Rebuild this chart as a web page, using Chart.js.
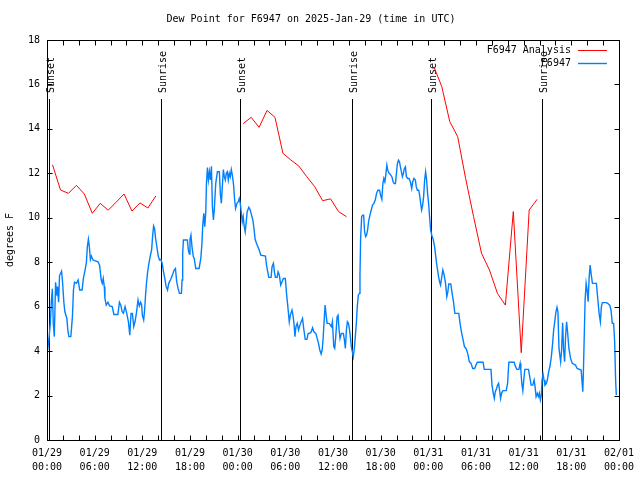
<!DOCTYPE html>
<html>
<head>
<meta charset="utf-8">
<script src="https://cdn.jsdelivr.net/npm/chart.js@4/dist/chart.umd.min.js"></script>
<style>
  html, body { margin: 0; padding: 0; background: #fff; }
</style>
</head>
<body>
<canvas id="dewChart" width="640" height="480"></canvas>
<script>
// hours since 01/29 00:00 UTC
const stationHours = [
  0.08, 0.25, 0.42, 0.54, 0.67, 0.79, 0.92, 1.08, 1.25, 1.33, 1.46, 1.58, 1.83, 1.96, 2.12, 2.25, 2.5, 2.62, 2.75, 3.0,
  3.08, 3.21, 3.33, 3.46, 3.71, 3.92, 4.12, 4.42, 4.58, 4.75, 4.96, 5.08, 5.21, 5.33, 5.46, 5.58, 5.79, 6.0, 6.42, 6.62,
  6.83, 6.96, 7.08, 7.21, 7.29, 7.46, 7.67, 7.88, 8.21, 8.42, 8.92, 9.12, 9.29, 9.46, 9.62, 9.83, 10.04, 10.25, 10.42, 10.58,
  10.75, 10.92, 11.08, 11.25, 11.46, 11.62, 11.79, 11.92, 12.0, 12.17, 12.29, 12.42, 12.54, 12.67, 12.83, 13.0, 13.17, 13.29, 13.42, 13.54,
  13.67, 13.83, 14.0, 14.17, 14.33, 14.5, 14.67, 14.83, 15.0, 15.17, 15.33, 15.58, 15.79, 16.0, 16.17, 16.33, 16.5, 16.67, 16.92, 17.0,
  17.08, 17.17, 17.67, 17.79, 17.92, 18.0, 18.12, 18.25, 18.42, 18.53, 18.73, 19.15, 19.36, 19.49, 19.61, 19.74, 19.86, 19.99, 20.07, 20.2,
  20.32, 20.45, 20.57, 20.7, 20.82, 20.95, 21.07, 21.24, 21.45, 21.7, 21.82, 21.95, 22.07, 22.2, 22.32, 22.45, 22.57, 22.7, 22.82, 22.95,
  23.07, 23.2, 23.33, 23.49, 23.62, 23.74, 23.91, 24.08, 24.2, 24.33, 24.45, 24.58, 24.7, 24.83, 24.95, 25.08, 25.2, 25.41, 25.58, 25.75,
  25.91, 26.08, 26.2, 26.37, 26.54, 26.71, 26.92, 27.5, 27.63, 27.79, 27.92, 28.21, 28.33, 28.5, 28.63, 28.75, 28.96, 29.09, 29.25, 29.42,
  29.59, 29.75, 30.0, 30.17, 30.3, 30.42, 30.5, 30.63, 30.84, 30.96, 31.09, 31.21, 31.34, 31.5, 31.67, 31.84, 32.0, 32.17, 32.34, 32.51,
  32.72, 32.88, 33.09, 33.26, 33.43, 33.59, 33.84, 34.01, 34.18, 34.34, 34.51, 34.64, 34.76, 34.93, 35.01, 35.14, 35.26, 35.51, 35.68, 35.81,
  35.93, 36.1, 36.22, 36.35, 36.52, 36.64, 36.77, 36.89, 37.06, 37.31, 37.44, 37.56, 37.69, 37.81, 37.94, 38.06, 38.19, 38.31, 38.44, 38.56,
  38.69, 38.81, 38.94, 39.06, 39.19, 39.32, 39.4, 39.48, 39.61, 39.73, 39.86, 39.98, 40.11, 40.23, 40.36, 40.48, 40.65, 40.82, 40.98, 41.15,
  41.32, 41.49, 41.65, 41.86, 41.99, 42.15, 42.28, 42.4, 42.53, 42.65, 42.78, 42.9, 43.07, 43.28, 43.41, 43.57, 43.7, 43.86, 43.99, 44.11,
  44.24, 44.37, 44.49, 44.62, 44.74, 44.87, 44.99, 45.12, 45.24, 45.41, 45.58, 45.74, 45.91, 46.04, 46.2, 46.37, 46.49, 46.62, 46.79, 46.91,
  47.04, 47.16, 47.29, 47.41, 47.54, 47.66, 47.79, 47.91, 48.04, 48.16, 48.29, 48.46, 48.62, 48.79, 48.92, 49.04, 49.17, 49.29, 49.42, 49.54,
  49.67, 49.83, 50.0, 50.17, 50.33, 50.46, 50.58, 50.83, 51.0, 51.17, 51.34, 51.84, 52.0, 52.17, 52.34, 52.55, 52.75, 52.96, 53.17, 53.38,
  53.59, 53.84, 54.0, 54.17, 54.89, 55.05, 55.89, 56.02, 56.18, 56.31, 56.43, 56.6, 56.72, 56.85, 56.97, 57.1, 57.22, 57.39, 57.81, 57.98,
  58.14, 58.81, 58.98, 59.15, 59.4, 59.56, 59.65, 59.77, 59.9, 60.02, 60.15, 60.61, 60.77, 60.94, 61.15, 61.32, 61.44, 61.57, 61.73, 61.86,
  61.98, 62.11, 62.23, 62.32, 62.44, 62.57, 62.69, 62.86, 62.98, 63.15, 63.32, 63.49, 63.65, 63.78, 63.9, 64.07, 64.2, 64.32, 64.45, 64.66,
  64.78, 64.91, 65.03, 65.16, 65.28, 65.41, 65.53, 65.7, 65.91, 66.12, 66.53, 66.74, 67.24, 67.37, 67.45, 67.53, 67.66, 67.74, 67.87, 67.99,
  68.12, 68.24, 68.37, 68.49, 68.66, 69.16, 69.33, 69.5, 69.66, 69.79, 69.91, 70.41, 70.58, 70.83, 71.0, 71.16, 71.33, 71.46, 71.58, 71.67
];
const stationValues = [
  4.05, 4.57, 5.25, 6.2, 6.8, 5.25, 4.65, 7.1, 6.5, 6.9, 6.2, 7.4, 7.6, 7.1, 6.2, 5.77, 5.47, 4.95, 4.65, 4.65,
  5.0, 5.6, 6.75, 7.1, 7.05, 7.2, 6.75, 6.75, 7.27, 7.57, 7.98, 8.7, 9.03, 8.7, 8.13, 8.28, 8.1, 8.07, 8.02, 7.87,
  7.2, 7.05, 7.27, 6.9, 6.37, 6.07, 6.2, 6.03, 6.0, 5.65, 5.65, 6.2, 6.07, 5.77, 5.7, 6.0, 5.7, 5.32, 4.72, 5.7,
  5.7, 5.1, 5.32, 5.7, 6.3, 6.03, 6.2, 6.07, 5.62, 5.4, 5.85, 6.6, 7.12, 7.57, 7.95, 8.28, 8.55, 9.15, 9.63, 9.52,
  9.07, 8.7, 8.28, 8.1, 8.13, 7.95, 7.57, 7.27, 6.9, 6.75, 7.05, 7.23, 7.42, 7.65, 7.72, 7.12, 6.82, 6.6, 6.6, 7.2,
  8.4, 9.0, 9.0, 8.55, 8.37, 9.03, 9.22, 8.7, 8.25, 8.17, 7.72, 7.72, 8.17, 8.77, 9.67, 10.2, 9.6, 10.27, 11.54, 12.26,
  11.7, 12.07, 11.7, 12.32, 10.5, 9.9, 10.42, 11.54, 12.07, 12.07, 11.1, 10.65, 11.4, 12.17, 11.85, 11.7, 12.0, 12.07, 11.7, 12.0,
  11.85, 12.17, 11.92, 11.47, 10.8, 10.42, 10.65, 10.72, 10.87, 10.65, 10.27, 9.82, 10.05, 9.6, 9.37, 9.82, 10.27, 10.47, 10.35, 10.12,
  9.9, 9.45, 9.03, 8.85, 8.7, 8.55, 8.32, 8.28, 7.87, 7.57, 7.32, 7.32, 7.8, 7.95, 7.57, 7.32, 7.32, 7.57, 7.42, 6.97,
  7.12, 7.27, 7.27, 6.52, 6.07, 5.62, 5.32, 5.62, 5.85, 5.62, 5.25, 4.65, 5.1, 5.25, 4.95, 5.17, 5.32, 5.47, 4.95, 4.53,
  4.53, 4.8, 4.8, 4.87, 5.05, 4.87, 4.8, 4.57, 4.35, 4.05, 3.87, 4.05, 4.57, 5.62, 6.07, 5.62, 5.25, 5.25, 5.17, 5.1,
  5.32, 4.2, 4.12, 4.65, 5.55, 5.62, 4.95, 4.57, 4.8, 4.8, 4.5, 4.12, 4.95, 5.32, 5.25, 5.02, 4.65, 4.2, 3.97, 3.75,
  4.12, 4.65, 5.25, 6.0, 6.52, 6.6, 7.42, 9.07, 10.05, 10.12, 10.12, 9.37, 9.15, 9.22, 9.45, 9.82, 10.12, 10.35, 10.57, 10.65,
  10.8, 11.1, 11.24, 11.24, 11.02, 10.83, 11.54, 11.77, 11.62, 11.92, 12.37, 12.14, 12.0, 11.92, 11.85, 11.62, 11.54, 11.54, 12.0, 12.44,
  12.59, 12.52, 12.29, 12.07, 11.85, 12.0, 12.22, 12.29, 11.85, 11.77, 11.77, 11.62, 11.32, 11.62, 11.77, 11.7, 11.39, 11.24, 11.24, 11.02,
  10.65, 10.35, 10.57, 10.95, 11.7, 12.07, 11.7, 11.1, 10.65, 10.05, 9.45, 9.18, 9.03, 8.7, 8.32, 7.95, 7.65, 7.35, 7.12, 6.97,
  7.27, 7.65, 7.42, 7.05, 6.45, 6.67, 7.02, 7.02, 6.6, 6.22, 5.7, 5.7, 5.25, 4.87, 4.57, 4.2, 4.12, 3.9, 3.52, 3.45,
  3.22, 3.22, 3.37, 3.5, 3.5, 3.18, 3.18, 2.47, 2.1, 1.87, 2.17, 2.32, 2.47, 2.55, 2.25, 1.87, 2.1, 2.22, 2.22, 2.55,
  3.5, 3.5, 3.3, 3.18, 3.18, 3.45, 3.15, 2.55, 2.22, 2.7, 3.18, 3.18, 2.85, 2.47, 2.47, 2.7, 2.4, 1.95, 2.1, 1.95,
  2.1, 1.8, 2.02, 2.7, 2.97, 2.7, 2.47, 2.55, 2.7, 3.07, 3.33, 3.75, 4.35, 4.95, 5.28, 5.77, 5.97, 5.77, 4.12, 3.52,
  4.05, 5.28, 4.05, 3.52, 4.65, 5.32, 4.87, 4.12, 3.67, 3.45, 3.37, 3.22, 3.15, 2.55, 2.17, 3.15, 5.1, 6.3, 7.05, 6.75,
  6.22, 7.27, 7.87, 7.5, 7.05, 7.05, 6.37, 5.7, 5.32, 6.0, 6.18, 6.18, 6.15, 6.07, 5.85, 5.25, 5.25, 4.42, 2.7, 2.02
];

// analysis runs, null = gap between runs
const analysisHours = [
  0.7, 1.7, 2.7, 3.7, 4.7, 5.7, 6.7, 7.7, 8.7, 9.7, 10.7, 11.7, 12.7, 13.7, 19,
  24.7, 25.7, 26.7, 27.7, 28.7, 29.7, 30.7, 31.7, 32.7, 33.7, 34.7, 35.7, 36.7, 37.7, 43,
  48.7, 49.7, 50.7, 51.7, 52.7, 53.7, 54.7, 55.7, 56.7, 57.7, 58.7, 59.7, 60.7, 61.7
];
const analysisValues = [
  12.38, 11.25, 11.1, 11.46, 11.07, 10.2, 10.65, 10.34, 10.7, 11.07, 10.3, 10.67, 10.44, 10.98, null,
  14.24, 14.52, 14.07, 14.83, 14.52, 12.9, 12.6, 12.33, 11.85, 11.4, 10.77, 10.85, 10.28, 10.05, null,
  16.8, 15.9, 14.33, 13.65, 11.77, 10.05, 8.4, 7.65, 6.6, 6.07, 10.28, 3.93, 10.35, 10.83
];

const sunHours = [0.29, 14.31, 24.33, 38.36, 48.38, 62.27];
const sunLabels = ['Sunset', 'Sunrise', 'Sunset', 'Sunrise', 'Sunset', 'Sunrise'];

const xTickLabels = [
  ['01/29', '00:00'], ['01/29', '06:00'], ['01/29', '12:00'], ['01/29', '18:00'],
  ['01/30', '00:00'], ['01/30', '06:00'], ['01/30', '12:00'], ['01/30', '18:00'],
  ['01/31', '00:00'], ['01/31', '06:00'], ['01/31', '12:00'], ['01/31', '18:00'],
  ['02/01', '00:00']
];

const FONT = 'DejaVu Sans Mono';

// frame, inward ticks, sunrise/sunset markers and the legend, gnuplot style
const gnuFrame = {
    id: 'gnuFrame',
    beforeDatasetsDraw(chart) {
        const { ctx, chartArea: a, scales: { x, y } } = chart;
        ctx.save();
        ctx.strokeStyle = '#000';
        ctx.lineWidth = 1;
        ctx.fillStyle = '#000';
        ctx.font = '10px "' + FONT + '"';
        sunHours.forEach((h, i) => {
            const px = Math.round(x.getPixelForValue(h)) + 0.5;
            ctx.beginPath();
            ctx.moveTo(px, a.top + 59);
            ctx.lineTo(px, a.bottom);
            ctx.stroke();
            ctx.save();
            ctx.translate(px + 2, a.top + 53);
            ctx.rotate(-Math.PI / 2);
            ctx.textAlign = 'left';
            ctx.textBaseline = 'middle';
            ctx.fillText(sunLabels[i], 0, 0);
            ctx.restore();
        });
        ctx.restore();
    },
    afterDatasetsDraw(chart) {
        const { ctx, chartArea: a, scales: { x, y } } = chart;
        ctx.save();
        ctx.strokeStyle = '#000';
        ctx.lineWidth = 1;
        const L = Math.round(a.left) + 0.5, R = Math.round(a.right) + 0.5;
        const T = Math.round(a.top) + 0.5, B = Math.round(a.bottom) + 0.5;
        ctx.strokeRect(L, T, R - L, B - T);
        ctx.beginPath();
        for (let h = 0; h <= 72; h += 2) {
            const px = Math.round(x.getPixelForValue(h)) + 0.5;
            ctx.moveTo(px, B); ctx.lineTo(px, B - 5);
            ctx.moveTo(px, T); ctx.lineTo(px, T + 5);
        }
        for (let v = 0; v <= 18; v += 2) {
            const py = Math.round(y.getPixelForValue(v)) + 0.5;
            ctx.moveTo(L, py); ctx.lineTo(L + 5, py);
            ctx.moveTo(R, py); ctx.lineTo(R - 5, py);
        }
        ctx.stroke();

        // legend
        ctx.font = '10px "' + FONT + '"';
        ctx.textAlign = 'right';
        ctx.textBaseline = 'middle';
        chart.data.datasets.forEach((ds, i) => {
            const ly = a.top + 10 + i * 13;
            ctx.fillStyle = '#000';
            ctx.fillText(ds.label, a.right - 48, ly);
            ctx.strokeStyle = ds.borderColor;
            ctx.lineWidth = ds.borderWidth;
            ctx.beginPath();
            ctx.moveTo(a.right - 41, Math.round(ly) + 0.5);
            ctx.lineTo(a.right - 12, Math.round(ly) + 0.5);
            ctx.stroke();
        });
        ctx.restore();
    }
};

new Chart(document.getElementById('dewChart'), {
    type: 'line',
    data: {
        datasets: [{
            label: 'F6947 Analysis',
            data: analysisHours.map((h, i) => ({ x: h, y: analysisValues[i] })),
            borderColor: '#ff0000',
            borderWidth: 1,
            pointRadius: 0,
            tension: 0,
            spanGaps: false
        }, {
            label: 'F6947',
            data: stationHours.map((h, i) => ({ x: h, y: stationValues[i] })),
            borderColor: '#0080ff',
            borderWidth: 1.4,
            pointRadius: 0,
            tension: 0
        }]
    },
    options: {
        responsive: false,
        animation: false,
        devicePixelRatio: 1,
        layout: { padding: { left: 0, right: 18, top: 0, bottom: 0 } },
        plugins: {
            legend: { display: false },
            tooltip: { enabled: false },
            title: {
                display: true,
                text: 'Dew Point for F6947 on 2025-Jan-29 (time in UTC)',
                color: '#000',
                font: { family: FONT, size: 10, weight: 'normal', lineHeight: 1.2 },
                padding: { top: 13, bottom: 15 }
            }
        },
        scales: {
            x: {
                type: 'linear',
                min: 0,
                max: 72,
                grid: { display: false, drawTicks: false, tickLength: 0 },
                border: { display: true, color: '#000' },
                ticks: {
                    stepSize: 6,
                    autoSkip: false,
                    maxRotation: 0,
                    padding: 6,
                    color: '#000',
                    font: { family: FONT, size: 10, lineHeight: 1.4 },
                    callback: (v) => xTickLabels[Math.round(v / 6)]
                },
                afterFit: (s) => { s.height = 40; }
            },
            y: {
                min: 0,
                max: 18,
                grid: { display: false, drawTicks: false, tickLength: 0 },
                border: { display: true, color: '#000' },
                ticks: {
                    stepSize: 2,
                    padding: 7,
                    color: '#000',
                    font: { family: FONT, size: 10 }
                },
                title: {
                    display: true,
                    text: 'degrees F',
                    color: '#000',
                    font: { family: FONT, size: 10 },
                    padding: { top: 4, bottom: 0 }
                },
                afterFit: (s) => { s.width = 47; }
            }
        }
    },
    plugins: [gnuFrame]
});
</script>
</body>
</html>
